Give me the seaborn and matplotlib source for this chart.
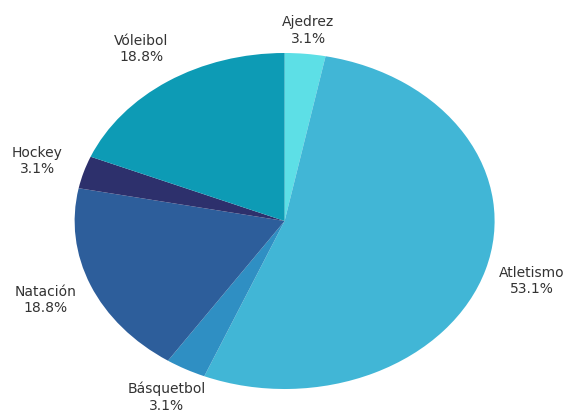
import matplotlib
matplotlib.use('Agg')
import matplotlib.pyplot as plt
import numpy as np
import seaborn as sns

sns.set_theme(style='white')
plt.rcParams['font.family'] = ['DejaVu Sans']

SPORTS = ['Ajedrez', 'Atletismo', 'Básquetbol', 'Natación', 'Hockey', 'Vóleibol']
COUNTS = [1, 17, 1, 6, 1, 6]
COLORS = ['#5ddfe6', '#41b6d6', '#2f8fc3', '#2d5e9b', '#2d306c', '#0d9bb5']


def main() -> None:
    """Draws the elliptical pie chart and saves it."""
    fig = plt.figure(figsize=(5.71, 4.16), dpi=100)
    ax = fig.add_axes([0.1307, 0.0649, 0.7355, 0.8077])
    wedges, _ = ax.pie(
        COUNTS,
        colors=sns.color_palette(COLORS),
        startangle=90,
        counterclock=False,
        wedgeprops={'linewidth': 0},
    )
    # the reference pie is stretched horizontally
    ax.set_aspect('auto')
    ax.set_xlim(-1, 1)
    ax.set_ylim(-1, 1)
    total = sum(COUNTS)
    dists = {'Ajedrez': 1.14, 'Básquetbol': 1.19}
    for wedge, name, count in zip(wedges, SPORTS, COUNTS):
        ang = np.deg2rad((wedge.theta1 + wedge.theta2) / 2)
        dist = dists.get(name, 1.23)
        ax.text(
            dist * np.cos(ang), dist * np.sin(ang),
            f'{name}\n{100 * count / total:.1f}%',
            ha='center', va='center', fontsize=10, color='#333333',
            clip_on=False,
        )
    fig.savefig('out.png', dpi=100)


if __name__ == '__main__':
    main()
